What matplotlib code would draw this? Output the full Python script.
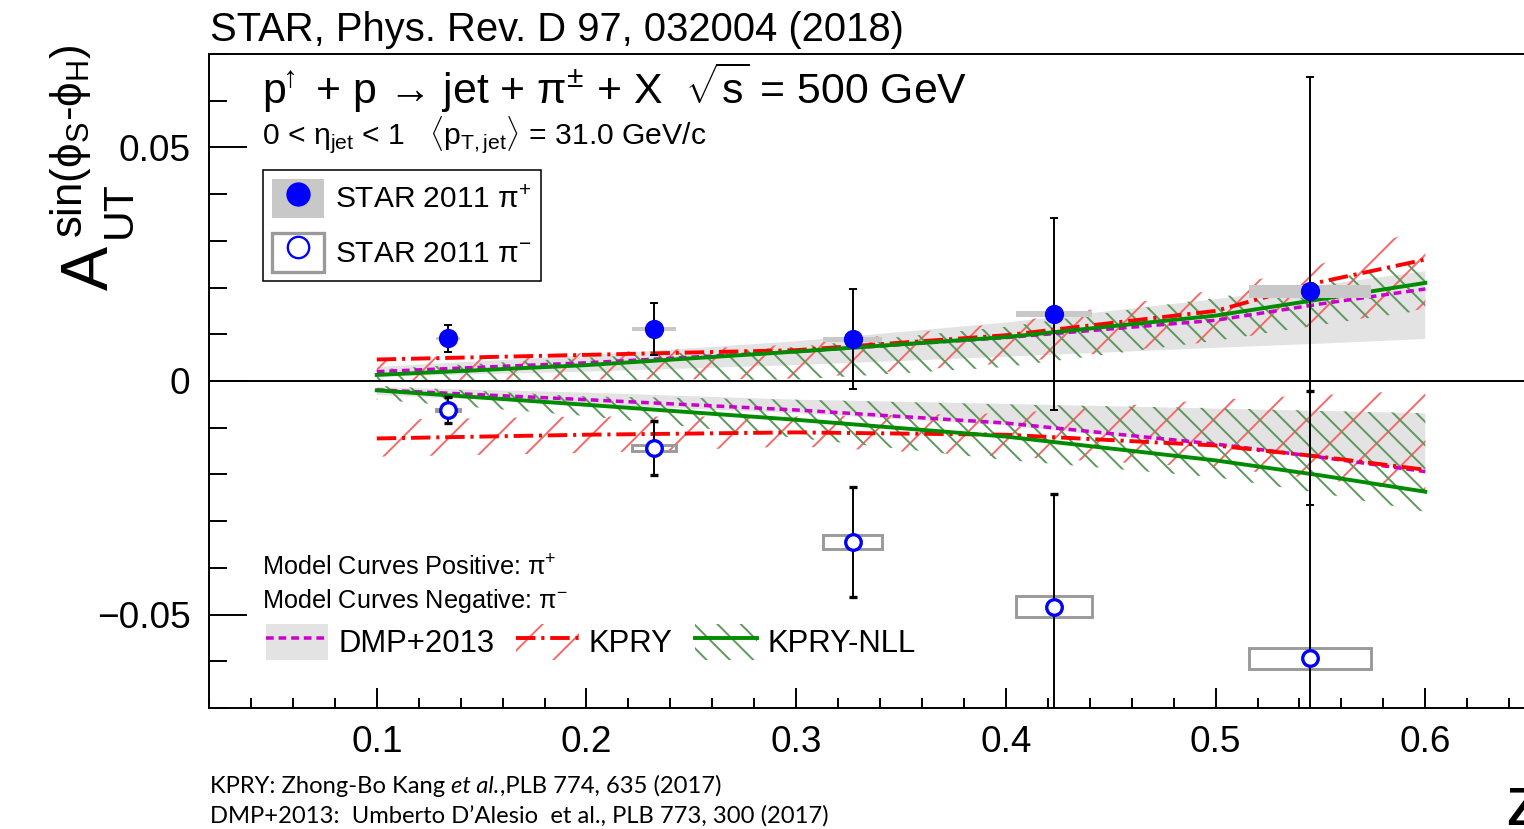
import matplotlib
matplotlib.use('Agg')
import matplotlib.pyplot as plt
import numpy as np
from matplotlib.patches import Patch
from matplotlib.lines import Line2D
from matplotlib.ticker import MultipleLocator
from matplotlib.offsetbox import TextArea, HPacker, AnchoredOffsetbox

plt.rcParams['font.family'] = ['Liberation Sans', 'DejaVu Sans']
plt.rcParams['mathtext.fontset'] = 'custom'
plt.rcParams['mathtext.rm'] = 'Liberation Sans'
plt.rcParams['mathtext.it'] = 'Liberation Sans:italic'
plt.rcParams['mathtext.bf'] = 'Liberation Sans:bold'
plt.rcParams['hatch.linewidth'] = 1.0

# STAR 2011 Collins asymmetry vs z
z_pts = np.array([0.134, 0.232, 0.327, 0.423, 0.545])
dz_pts = np.array([0.0057, 0.0105, 0.0141, 0.0180, 0.0289])
pip_val = np.array([0.0091, 0.0111, 0.0089, 0.0143, 0.0192])
pip_err = np.array([0.0028, 0.0055, 0.0107, 0.0205, 0.0458])
pip_sys = np.array([0.0004, 0.00045, 0.0006, 0.00065, 0.00135])
pim_val = np.array([-0.0062, -0.0144, -0.0344, -0.0483, -0.0594])
pim_err = np.array([0.0028, 0.0058, 0.0118, 0.0241, 0.0573])
pim_sys = np.array([0.0002, 0.0006, 0.0015, 0.00224, 0.00224])

# model curves
z_th = np.array([0.10, 0.20, 0.30, 0.40, 0.50, 0.55, 0.60])
dmp_pos = [0.0020, 0.0039, 0.0063, 0.0093, 0.0130, 0.0165, 0.0197]
dmp_pos_lo = [0.0009, 0.0020, 0.0034, 0.0052, 0.0071, 0.0080, 0.0090]
dmp_pos_hi = [0.0030, 0.0055, 0.0085, 0.0125, 0.0175, 0.0205, 0.0235]
dmp_neg = [-0.0019, -0.0040, -0.0062, -0.0090, -0.0135, -0.0163, -0.0194]
dmp_neg_lo = [-0.0030, -0.0050, -0.0069, -0.0095, -0.0140, -0.0165, -0.0190]
dmp_neg_hi = [-0.0013, -0.0025, -0.0040, -0.0049, -0.0059, -0.0064, -0.0069]

kpry_pos = [0.0046, 0.0056, 0.0066, 0.0098, 0.0150, 0.0212, 0.0260]
kpry_pos_lo = [0.0002, 0.0003, 0.0005, 0.0038, 0.0085, 0.0120, 0.0155]
kpry_pos_hi = [0.0048, 0.0060, 0.0078, 0.0124, 0.0195, 0.0250, 0.0330]
kpry_neg = [-0.0123, -0.0115, -0.0110, -0.0115, -0.0138, -0.0162, -0.0190]
kpry_neg_lo = [-0.0162, -0.0154, -0.0140, -0.0162, -0.0185, -0.0210, -0.0240]
kpry_neg_hi = [-0.0083, -0.0076, -0.0076, -0.0069, -0.0040, -0.0030, -0.0020]

nll_pos = [0.0013, 0.0034, 0.0063, 0.0094, 0.0140, 0.0175, 0.0210]
nll_pos_lo = [0.0002, 0.0002, 0.0003, 0.0030, 0.0086, 0.0120, 0.0152]
nll_pos_hi = [0.0025, 0.0050, 0.0073, 0.0116, 0.0178, 0.0215, 0.0255]
nll_neg = [-0.0020, -0.0051, -0.0083, -0.0119, -0.0170, -0.0202, -0.0237]
nll_neg_lo = [-0.0040, -0.0075, -0.0122, -0.0169, -0.0206, -0.0240, -0.0280]
nll_neg_hi = [-0.0010, -0.0033, -0.0040, -0.0050, -0.0058, -0.0064, -0.0069]

x_ticks = [0.1, 0.2, 0.3, 0.4, 0.5, 0.6]
y_ticks = [-0.05, 0.0, 0.05]
y_ticklabels = ['\u22120.05', '0', '0.05']

c_gray_band = '#e3e3e3'
c_dmp = '#cc00cc'
c_kpry = '#ff0000'
c_kpry_h = '#f46a6a'
c_nll = '#008c00'
c_nll_h = '#5f975f'
dmp_dash = (2.2, 1.4)
kpry_dash = (5.0, 1.5, 0.8, 1.5)

W, H, DPI = 1524, 829, 140
fig = plt.figure(figsize=(W / DPI, H / DPI), dpi=DPI)
# frame runs past the right edge of the canvas
ax = fig.add_axes([209 / W, 121 / H, (1635 - 209) / W, 654 / H])
ax.set_xlim(0.02, 0.70)
ax.set_ylim(-0.07, 0.07)


def px(x, y):
    # pixel position (from top-left) -> figure fraction
    return x / W, 1 - y / H


# theory bands
for lo, hi in [(dmp_pos_lo, dmp_pos_hi), (dmp_neg_lo, dmp_neg_hi)]:
    ax.fill_between(z_th, lo, hi, facecolor=c_gray_band, edgecolor='none', lw=0, zorder=1)
for lo, hi in [(kpry_pos_lo, kpry_pos_hi), (kpry_neg_lo, kpry_neg_hi)]:
    ax.fill_between(z_th, lo, hi, facecolor='none', edgecolor=c_kpry_h, hatch='/', lw=0, zorder=1.2)
for lo, hi in [(nll_pos_lo, nll_pos_hi), (nll_neg_lo, nll_neg_hi)]:
    ax.fill_between(z_th, lo, hi, facecolor='none', edgecolor=c_nll_h, hatch='\\\\', lw=0, zorder=1.3)

ax.axhline(0, color='black', lw=1.0, zorder=1.5)

# theory curves
for y in (dmp_pos, dmp_neg):
    ax.plot(z_th, y, color=c_dmp, lw=1.8, dashes=dmp_dash, zorder=2)
for y in (kpry_pos, kpry_neg):
    ax.plot(z_th, y, color=c_kpry, lw=2.0, dashes=kpry_dash, zorder=2.1)
for y in (nll_pos, nll_neg):
    ax.plot(z_th, y, color=c_nll, lw=2.0, zorder=2.2)

# systematic boxes
ax.bar(z_pts, 2 * pip_sys, bottom=pip_val - pip_sys, width=2 * dz_pts,
       color='#c8c8c8', lw=0, zorder=3)
ax.bar(z_pts, 2 * pim_sys, bottom=pim_val - pim_sys, width=2 * dz_pts,
       facecolor='none', edgecolor='#9a9a9a', lw=1.5, zorder=3)

# data points with statistical errors
ax.errorbar(z_pts, pip_val, yerr=pip_err, fmt='o', color='blue', ms=8.9,
            ecolor='black', elinewidth=1.0, capsize=2.2, capthick=1.0, zorder=4)
ax.errorbar(z_pts, pim_val, yerr=pim_err, fmt='o', mfc='white', mec='blue',
            mew=1.7, ms=8.0, ecolor='black', elinewidth=1.0, capsize=2.2,
            capthick=1.0, zorder=4)

# axes styling
for s in ax.spines.values():
    s.set_linewidth(1.0)
ax.set_xticks(x_ticks)
ax.xaxis.set_minor_locator(MultipleLocator(0.02))
ax.set_yticks(y_ticks, labels=y_ticklabels)
ax.yaxis.set_minor_locator(MultipleLocator(0.01))
ax.tick_params(axis='both', which='both', direction='in', top=False, right=False,
               width=1.0, labelsize=19)
ax.tick_params(axis='x', which='major', length=10.3, pad=8.5)
ax.tick_params(axis='x', which='minor', length=5.1)
ax.tick_params(axis='y', which='major', length=19.5, pad=9.5)
ax.tick_params(axis='y', which='minor', length=9.3)

# data legend
h_pip = (Patch(facecolor='#c8c8c8', edgecolor='none'),
         Line2D([], [], ls='none', marker='o', color='blue', ms=11.5))
h_pim = (Patch(facecolor='white', edgecolor='#9a9a9a', lw=1.7),
         Line2D([], [], ls='none', marker='o', mfc='white', mec='blue', mew=1.2, ms=11))
leg1 = ax.legend([h_pip, h_pim], ['STAR 2011 π$^{+}$', 'STAR 2011 π$^{-}$'],
                 loc='upper left', bbox_to_anchor=px(263, 170),
                 bbox_transform=fig.transFigure, fontsize=15.4,
                 handlelength=1.75, handleheight=1.62, handletextpad=0.35,
                 labelspacing=0.5, borderpad=0.3, borderaxespad=0,
                 fancybox=False, edgecolor='black', framealpha=1)
leg1.get_frame().set_linewidth(0.8)
ax.add_artist(leg1)

# model legend
h_dmp = (Patch(facecolor=c_gray_band, edgecolor='none'),
         Line2D([], [], color=c_dmp, lw=1.8, dashes=dmp_dash))
h_kpry = (Patch(facecolor='none', edgecolor=c_kpry_h, hatch='/', lw=0),
          Line2D([], [], color=c_kpry, lw=2.0, dashes=kpry_dash))
h_nll = (Patch(facecolor='none', edgecolor=c_nll_h, hatch='\\\\', lw=0),
         Line2D([], [], color=c_nll, lw=2.0))
ax.legend([h_dmp, h_kpry, h_nll], ['DMP+2013', 'KPRY', 'KPRY-NLL'],
          loc='center left', bbox_to_anchor=px(266, 642),
          bbox_transform=fig.transFigure, ncol=3, frameon=False, fontsize=16,
          handlelength=2.0, handleheight=1.36, handletextpad=0.33,
          columnspacing=0.7, borderpad=0, borderaxespad=0)

# annotations
fig.text(*px(210, 41), 'STAR, Phys. Rev. D 97, 032004 (2018)',
         fontsize=20.6, va='baseline', ha='left')
fig.text(*px(262, 104),
         r'$\mathrm{p}^{\!\!\uparrow}$ + p → jet + π$^{\pm}$ + X  $\sqrt{\mathrm{s}}$ = 500 GeV',
         fontsize=22, va='baseline', ha='left')
fig.text(*px(262, 145),
         r'0 < η$_{\mathrm{jet}}$ < 1   $\langle$p$_{\mathrm{T,jet}}\rangle$ = 31.0 GeV/c',
         fontsize=15.5, va='baseline', ha='left')
fig.text(*px(262, 575), 'Model Curves Positive: π$^{+}$',
         fontsize=13, va='baseline', ha='left')
fig.text(*px(262, 608), 'Model Curves Negative: π$^{-}$',
         fontsize=13, va='baseline', ha='left')

# rotated y title, built from its three pieces
ylab = dict(rotation=90, rotation_mode='anchor', ha='left', va='baseline')
fig.text(*px(108, 290), 'A', fontsize=34, **ylab)
fig.text(*px(131, 238), 'UT', fontsize=22, **ylab)
fig.text(*px(82, 238), 'sin(ϕ$_{\\mathrm{S}}$-ϕ$_{\\mathrm{H}}$)', fontsize=22.5, **ylab)

fig.text(*px(1505, 825), 'z', fontsize=36, ha='left', va='baseline')

# reference lines below the frame
ref_font = dict(family='Lato', fontsize=12.2)
parts = [TextArea('KPRY: Zhong-Bo Kang ', textprops=ref_font),
         TextArea('et al.', textprops=dict(ref_font, style='italic')),
         TextArea(',PLB 774, 635 (2017)', textprops=ref_font)]
box = HPacker(children=parts, align='baseline', pad=0, sep=0)
ab = AnchoredOffsetbox(loc='lower left', child=box, pad=0, borderpad=0, frameon=False,
                       bbox_to_anchor=px(210, 797), bbox_transform=fig.transFigure)
fig.add_artist(ab)
fig.text(*px(210, 823), 'DMP+2013:  Umberto D\u2019Alesio  et al., PLB 773, 300 (2017)',
         va='baseline', ha='left', **ref_font)

fig.savefig('out.png', dpi=DPI)
